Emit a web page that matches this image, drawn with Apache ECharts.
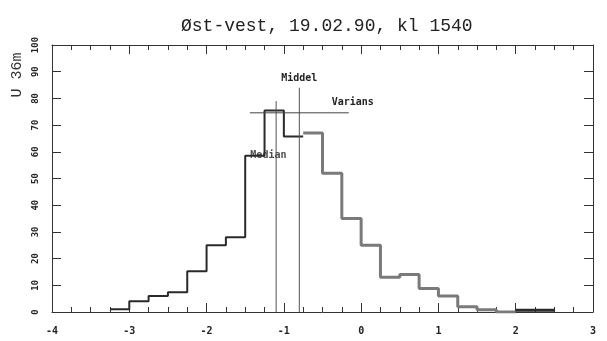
<!DOCTYPE html>
<html>
<head>
<meta charset="utf-8">
<script src="https://cdn.jsdelivr.net/npm/echarts@6/dist/echarts.min.js"></script>
<style>
  html, body { margin: 0; padding: 0; background: #fff; }
  #chart { width: 607px; height: 341px; }
</style>
</head>
<body>
<div id="chart"></div>
<script>
// histogram bins (left edges), width 0.25
var binWidth = 0.25;
var binStart = [-3.25, -3.0, -2.75, -2.5, -2.25, -2.0, -1.75, -1.5, -1.25, -1.0, -0.75, -0.5,
                -0.25, 0.0, 0.25, 0.5, 0.75, 1.0, 1.25, 1.5, 1.75, 2.0, 2.25];
var counts = [1, 4, 6, 7.4, 15.3, 25, 28, 58.5, 75.5, 65.7, 67, 52,
              35, 25, 13, 14, 8.8, 6, 2, 0.8, 0, 0.7, 0.7];

// statistics drawn as lines
var median = -1.1, medianTop = 79;
var middel = -0.8, middelTop = 84;
var stdDev = 0.64, variansLevel = 74.6;

var xTicks = [-4, -3, -2, -1, 0, 1, 2, 3];
var yTicks = [0, 10, 20, 30, 40, 50, 60, 70, 80, 90, 100];

function steps(i0, i1) {
    var pts = [];
    for (var i = i0; i < i1; i++) pts.push([binStart[i], counts[i]]);
    pts.push([binStart[i1 - 1] + binWidth, counts[i1 - 1]]);
    return pts;
}

var mono = 'DejaVu Sans Mono';
var axisCol = '#333';
var annot = { fontFamily: mono, fontSize: 10, fontWeight: 'bold', color: '#222' };

var myChart = echarts.init(document.getElementById('chart'));

var xBase = {
    type: 'value',
    min: xTicks[0],
    max: xTicks[xTicks.length - 1],
    interval: 1,
    splitLine: { show: false },
    axisLine: { show: true, onZero: false, lineStyle: { color: axisCol, width: 1 } },
    axisTick: { show: true, inside: true, length: 9, lineStyle: { color: axisCol } },
    minorTick: { show: true, splitNumber: 4, length: 5, lineStyle: { color: axisCol } }
};
var yBase = {
    type: 'value',
    min: yTicks[0],
    max: yTicks[yTicks.length - 1],
    interval: 10,
    splitLine: { show: false },
    axisLine: { show: true, onZero: false, lineStyle: { color: axisCol, width: 1 } },
    axisTick: { show: true, inside: true, length: 9, lineStyle: { color: axisCol } }
};

var option = {
    backgroundColor: '#ffffff',
    animation: false,
    title: {
        text: 'Øst-vest, 19.02.90, kl 1540',
        left: 176,
        top: 12,
        textStyle: { fontFamily: 'Liberation Mono', fontSize: 18, fontWeight: 'normal', color: '#222' }
    },
    graphic: [{
        type: 'text',
        x: 17, y: 75,
        rotation: Math.PI / 2,
        style: { text: 'U 36m', font: '15px "Liberation Mono"', fill: '#333', align: 'center', verticalAlign: 'middle' }
    }],
    grid: { left: 52, right: 14, top: 45, bottom: 29 },
    xAxis: [
        Object.assign({}, xBase, {
            position: 'bottom',
            axisLabel: { margin: 14, fontFamily: mono, fontSize: 10, color: '#222', fontWeight: 'bold' }
        }),
        Object.assign({}, xBase, { position: 'top', axisLabel: { show: false } })
    ],
    yAxis: [
        Object.assign({}, yBase, {
            position: 'left',
            axisLabel: { rotate: 90, margin: 12, fontFamily: mono, fontSize: 9, color: '#222', fontWeight: 'bold' }
        }),
        Object.assign({}, yBase, { position: 'right', axisLabel: { show: false } })
    ],
    series: [{
        name: 'left',
        type: 'line',
        step: 'end',
        symbol: 'none',
        data: steps(0, 10),
        lineStyle: { color: '#2a2a2a', width: 2 }
    }, {
        name: 'right',
        type: 'line',
        step: 'end',
        symbol: 'none',
        data: steps(10, 21),
        lineStyle: { color: '#7a7a7a', width: 3 }
    }, {
        name: 'tail',
        type: 'line',
        step: 'end',
        symbol: 'none',
        data: steps(21, 23),
        lineStyle: { color: '#2a2a2a', width: 3 }
    }, {
        name: 'Median',
        type: 'line',
        symbol: 'none',
        data: [[median, 0], [median, medianTop]],
        lineStyle: { color: '#555', width: 1 }
    }, {
        name: 'Middel',
        type: 'line',
        symbol: 'circle',
        symbolSize: 0,
        data: [[middel, 0], {
            value: [middel, middelTop],
            label: Object.assign({ show: true, position: 'top', distance: 4, formatter: 'Middel' }, annot)
        }],
        lineStyle: { color: '#555', width: 1 }
    }, {
        name: 'Varians',
        type: 'line',
        symbol: 'circle',
        symbolSize: 0,
        data: [[middel - stdDev, variansLevel], {
            value: [middel + stdDev, variansLevel],
            label: Object.assign({ show: true, position: 'top', distance: 5, offset: [4, 0], formatter: 'Varians' }, annot)
        }],
        lineStyle: { color: '#444', width: 1 }
    }, {
        name: 'medianLabel',
        type: 'scatter',
        symbolSize: 0,
        data: [[median - 0.1, 58.5]],
        label: Object.assign({ show: true, position: 'inside', formatter: 'Median' }, annot)
    }]
};

myChart.setOption(option);
</script>
</body>
</html>
